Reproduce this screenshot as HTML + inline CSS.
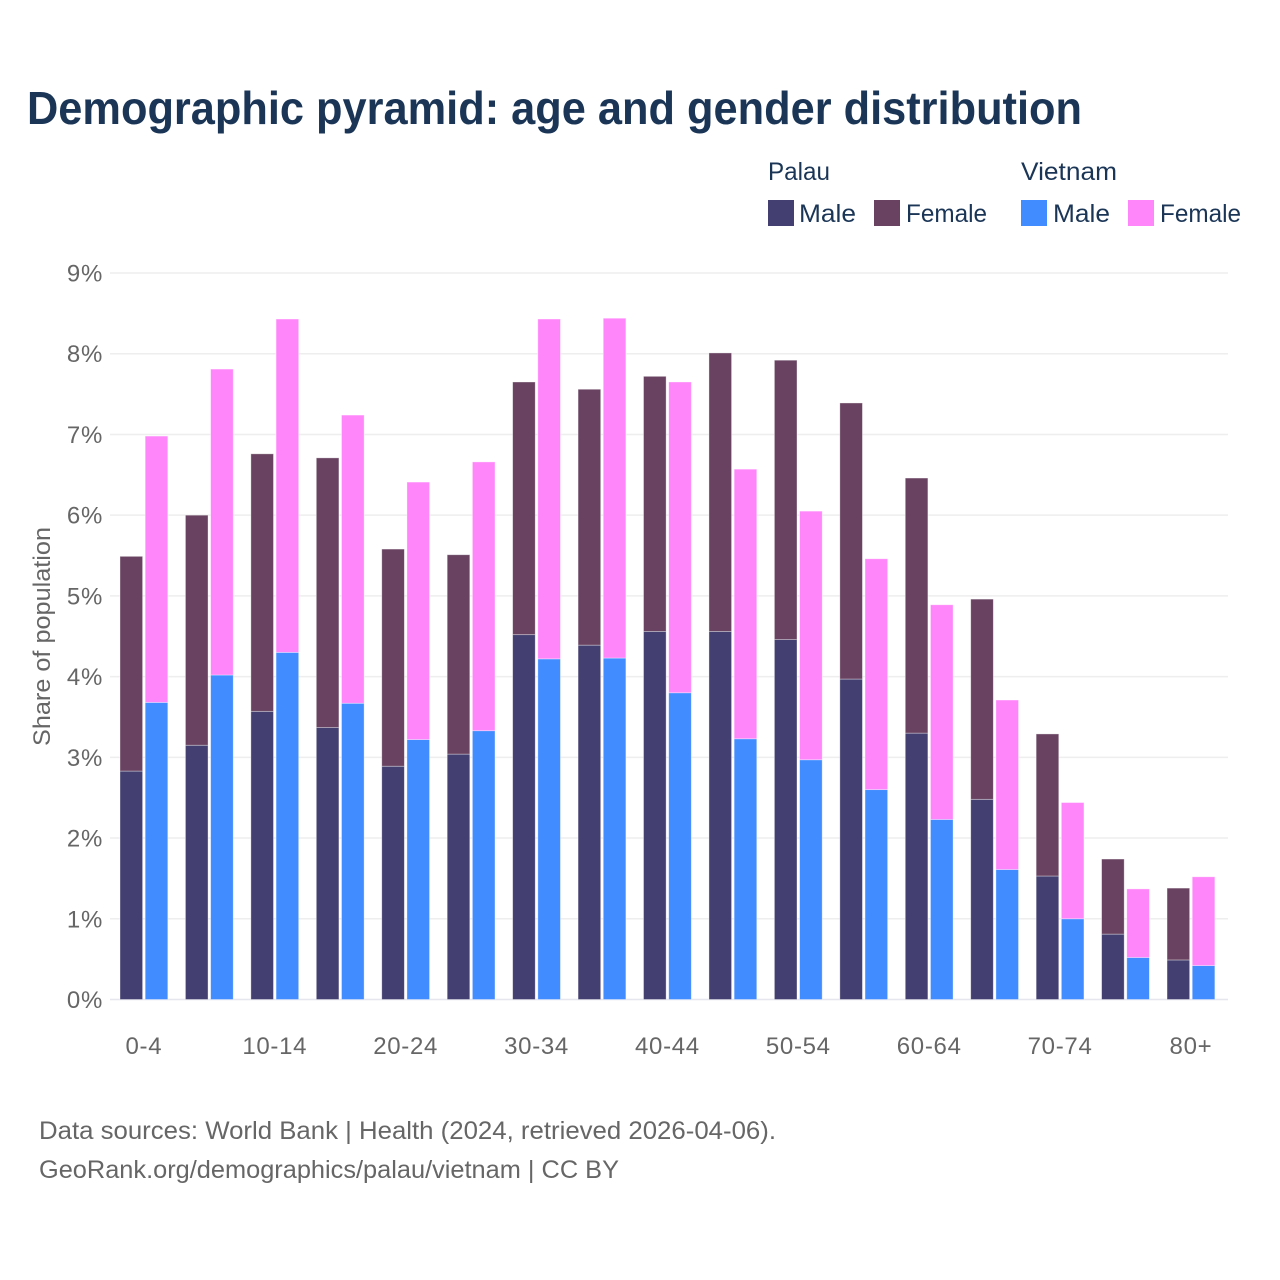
<!DOCTYPE html>
<html lang="en">
<head>
<meta charset="utf-8">
<title>Demographic pyramid</title>
<style>
html,body{margin:0;padding:0;background:#fff;}
svg{display:block;font-family:"Liberation Sans",sans-serif;}
.tick{font-size:24px;fill:#666;letter-spacing:.7px;}
.leg{font-size:25px;fill:#1a3556;}
.foot{font-size:25px;fill:#666;}
</style>
</head>
<body>
<svg id="chart" xmlns="http://www.w3.org/2000/svg" width="1280" height="1280" viewBox="0 0 1280 1280">
  <rect x="0" y="0" width="1280" height="1280" fill="#fff"/>
  <text x="27" y="124" font-size="46" font-weight="700" fill="#1a3556" textLength="1055" lengthAdjust="spacingAndGlyphs">Demographic pyramid: age and gender distribution</text>

  <g>
    <text class="leg" x="768" y="180" textLength="62" lengthAdjust="spacingAndGlyphs">Palau</text>
    <text class="leg" x="1021" y="180" textLength="96" lengthAdjust="spacingAndGlyphs">Vietnam</text>
    <rect x="768" y="200" width="26" height="26" fill="#433f70"/>
    <text class="leg" x="799" y="222" textLength="57" lengthAdjust="spacingAndGlyphs">Male</text>
    <rect x="874" y="200" width="26" height="26" fill="#684260"/>
    <text class="leg" x="906" y="222" textLength="81" lengthAdjust="spacingAndGlyphs">Female</text>
    <rect x="1021" y="200" width="26" height="26" fill="#418cff"/>
    <text class="leg" x="1053" y="222" textLength="57" lengthAdjust="spacingAndGlyphs">Male</text>
    <rect x="1128" y="200" width="26" height="26" fill="#ff85fa"/>
    <text class="leg" x="1160" y="222" textLength="81" lengthAdjust="spacingAndGlyphs">Female</text>
  </g>

  <g id="grid"></g>
  <g id="bars"></g>
  <g id="yticks"></g>
  <g id="xticks"></g>

  <text transform="translate(50,746) rotate(-90)" x="0" y="0" font-size="24" fill="#666" textLength="219" lengthAdjust="spacingAndGlyphs">Share of population</text>

  <text class="foot" x="39" y="1139" textLength="737" lengthAdjust="spacingAndGlyphs">Data sources: World Bank | Health (2024, retrieved 2026-04-06).</text>
  <text class="foot" x="39" y="1178" textLength="580" lengthAdjust="spacingAndGlyphs">GeoRank.org/demographics/palau/vietnam | CC BY</text>
</svg>
<script>
const ageGroups = ["0-4","5-9","10-14","15-19","20-24","25-29","30-34","35-39","40-44","45-49","50-54","55-59","60-64","65-69","70-74","75-79","80+"];
const palauMale = [2.83,3.15,3.57,3.37,2.89,3.04,4.52,4.39,4.56,4.56,4.46,3.97,3.30,2.48,1.53,0.81,0.49];
const palauFemale = [2.66,2.85,3.19,3.34,2.69,2.47,3.13,3.17,3.16,3.45,3.46,3.42,3.16,2.48,1.76,0.93,0.89];
const vietnamMale = [3.68,4.02,4.30,3.67,3.22,3.33,4.22,4.23,3.80,3.23,2.97,2.60,2.23,1.61,1.00,0.52,0.42];
const vietnamFemale = [3.30,3.79,4.13,3.57,3.19,3.33,4.21,4.21,3.85,3.34,3.08,2.86,2.66,2.10,1.44,0.85,1.10];
const yTickValues = [0,1,2,3,4,5,6,7,8,9];
const xTickLabels = ["0-4","10-14","20-24","30-34","40-44","50-54","60-64","70-74","80+"];

const NS = "http://www.w3.org/2000/svg";
const yScale = v => 999.5 - v * 80.72;
const groupLeft = i => 120 + i * 65.44;
const BAR_W = 22.6;
const BAR_GAP = 2.6;
const CENTER = BAR_W + BAR_GAP / 2;

const gridG = document.getElementById("grid");
const barsG = document.getElementById("bars");
const yG = document.getElementById("yticks");
const xG = document.getElementById("xticks");

yTickValues.forEach(v => {
  const line = document.createElementNS(NS, "line");
  line.setAttribute("x1", 110);
  line.setAttribute("x2", 1228);
  line.setAttribute("y1", yScale(v));
  line.setAttribute("y2", yScale(v));
  line.setAttribute("stroke", v === 0 ? "#e6e6ee" : "#eeeeee");
  line.setAttribute("stroke-width", 1.5);
  
  
  gridG.appendChild(line);

  const t = document.createElementNS(NS, "text");
  t.setAttribute("class", "tick");
  t.setAttribute("x", 103);
  t.setAttribute("y", yScale(v) + 8.5);
  t.setAttribute("text-anchor", "end");
  t.textContent = v + "%";
  
  
  yG.appendChild(t);
});

function drawSegment(x, base, value, fill, name) {
  const r = document.createElementNS(NS, "rect");
  r.setAttribute("x", x);
  r.setAttribute("y", yScale(base + value));
  r.setAttribute("width", BAR_W);
  r.setAttribute("height", yScale(base) - yScale(base + value));
  r.setAttribute("fill", fill);
  r.setAttribute("stroke", "#fff");
  r.setAttribute("stroke-opacity", "0.45");
  r.setAttribute("stroke-width", "0.8");
  
  
  barsG.appendChild(r);
}

ageGroups.forEach((g, i) => {
  const x0 = groupLeft(i);
  const x1 = x0 + BAR_W + BAR_GAP;
  drawSegment(x0, 0, palauMale[i], "#433f70", "bar-palau-male");
  drawSegment(x0, palauMale[i], palauFemale[i], "#684260", "bar-palau-female");
  drawSegment(x1, 0, vietnamMale[i], "#418cff", "bar-vietnam-male");
  drawSegment(x1, vietnamMale[i], vietnamFemale[i], "#ff85fa", "bar-vietnam-female");
});

xTickLabels.forEach(label => {
  const i = ageGroups.indexOf(label);
  const t = document.createElementNS(NS, "text");
  t.setAttribute("class", "tick");
  t.setAttribute("x", groupLeft(i) + CENTER);
  t.setAttribute("y", 1054);
  t.setAttribute("text-anchor", "middle");
  t.textContent = label;
  
  
  xG.appendChild(t);
});
</script>
</body>
</html>
